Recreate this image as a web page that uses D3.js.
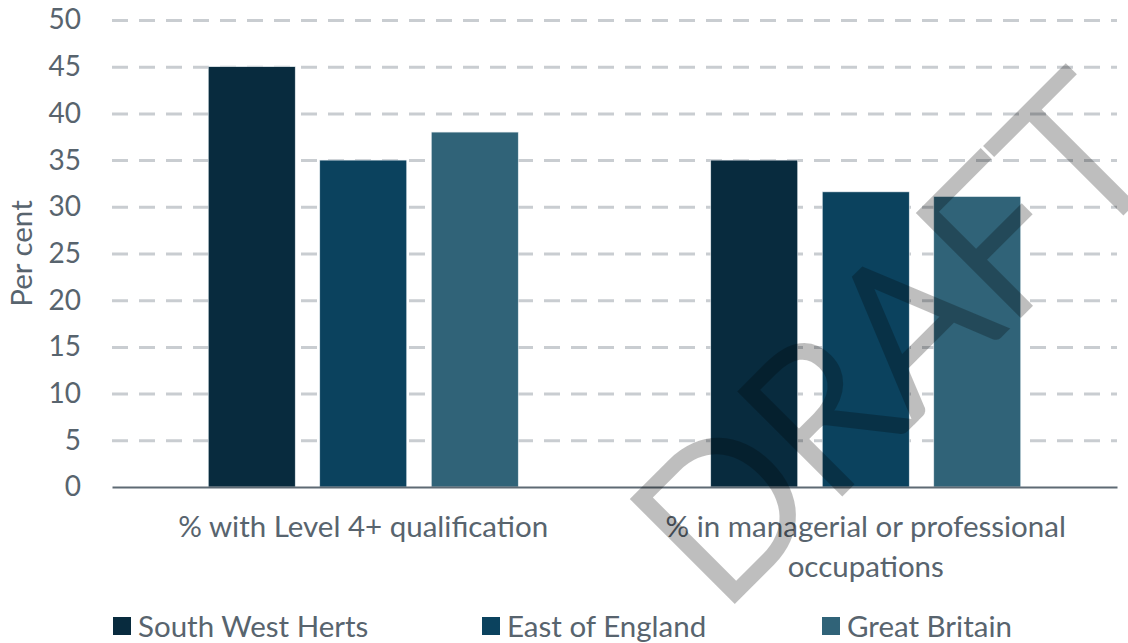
<!DOCTYPE html>
<html>
<head>
<meta charset="utf-8">
<script src="https://cdn.jsdelivr.net/npm/d3@7"></script>
<style>
  html, body { margin: 0; padding: 0; background: #ffffff; }
  svg { display: block; }
  text { font-family: Lato, "Open Sans", sans-serif; }
</style>
</head>
<body>
<svg id="chart" width="1128" height="643"></svg>
<script>
// ---- data ----
const categories = ["% with Level 4+ qualification", "% in managerial or professional occupations"];
const categoryLines = [["% with Level 4+ qualification"], ["% in managerial or professional", "occupations"]];
const seriesNames = ["South West Herts", "East of England", "Great Britain"];
const southWestHerts = [45, 35];
const eastOfEngland = [35, 31.6];
const greatBritain = [38, 31.1];
const yTicks = [0, 5, 10, 15, 20, 25, 30, 35, 40, 45, 50];
const seriesColors = ["#082b3e", "#0b425e", "#306378"];
const watermark = "DRAFT";

const seriesValues = [southWestHerts, eastOfEngland, greatBritain];

const svg = d3.select("#chart");
const margin = { left: 112, right: 11, top: 20, bottom: 156 };
const W = 1128, H = 643;
const plotW = W - margin.left - margin.right;
const plotH = H - margin.top - margin.bottom;

const textColor = "#58646e";
const labelSize = "29.5px";

const y = d3.scaleLinear().domain([0, 50]).range([margin.top + plotH, margin.top]);
const x0 = d3.scaleBand().domain(categories).range([margin.left, margin.left + plotW]).padding(0);
const groupW = 310;
const x1 = d3.scaleBand().domain(seriesNames).range([0, groupW]).paddingInner(0.22).paddingOuter(0);
const groupOffset = (x0.bandwidth() - groupW) / 2;

// gridlines
const grid = svg.append("g")
  .attr("transform", `translate(${margin.left},0)`)
  .call(d3.axisLeft(y).tickValues(yTicks.filter(d => d > 0)).tickSize(-plotW).tickFormat(""));
grid.select(".domain").remove();
grid.selectAll(".tick line")
  .attr("stroke", "#c9cdd1")
  .attr("stroke-width", 3)
  .attr("stroke-dasharray", "16,11");

// y tick labels
const yAxis = svg.append("g")
  .attr("transform", `translate(${margin.left},0)`)
  .call(d3.axisLeft(y).tickValues(yTicks).tickSize(0).tickPadding(31));
yAxis.select(".domain").remove();
yAxis.selectAll("text")
  .attr("fill", textColor)
  .style("font-size", "28px")
  .style("font-family", "Lato, 'Open Sans', sans-serif");

// bars
const groups = svg.append("g").selectAll("g")
  .data(categories)
  .join("g")
  .attr("transform", d => `translate(${x0(d) + groupOffset},0)`);

groups.selectAll("rect")
  .data((d, i) => seriesNames.map((s, j) => ({ s, v: seriesValues[j][i], j })))
  .join("rect")
  .attr("x", d => x1(d.s))
  .attr("width", x1.bandwidth())
  .attr("y", d => y(d.v))
  .attr("height", d => y(0) - y(d.v))
  .attr("fill", d => seriesColors[d.j])
  .attr("stroke", "#e8eef2")
  .attr("stroke-width", 0.6);

// x axis line
const xAxis = svg.append("g")
  .attr("transform", `translate(0,${y(0)})`)
  .call(d3.axisBottom(x0).tickSize(0).tickFormat(""));
xAxis.select(".domain").attr("stroke", "#5e6a74").attr("stroke-width", 2);

// x category labels
svg.append("g").selectAll("text")
  .data(categories)
  .join("text")
  .attr("text-anchor", "middle")
  .attr("fill", textColor)
  .style("font-size", labelSize)
  .each(function (d, i) {
    const lines = categoryLines[i];
    const t = d3.select(this);
    lines.forEach((ln, k) => {
      t.append("tspan")
        .attr("x", x0(d) + x0.bandwidth() / 2)
        .attr("y", 537 + k * 40)
        .text(ln);
    });
  });

// y axis title
svg.append("text")
  .attr("transform", `translate(32,${(y(0) + y(50)) / 2}) rotate(-90)`)
  .attr("text-anchor", "middle")
  .attr("fill", textColor)
  .style("font-size", labelSize)
  .text("Per cent");

// legend
const legendX = [113, 482, 822];
const legend = svg.append("g").selectAll("g")
  .data(seriesNames)
  .join("g")
  .attr("transform", (d, i) => `translate(${legendX[i]},617)`);
legend.append("rect")
  .attr("width", 18).attr("height", 18)
  .attr("fill", (d, i) => seriesColors[i]);
legend.append("text")
  .attr("x", 25).attr("y", 9)
  .attr("dy", "0.36em")
  .attr("fill", textColor)
  .style("font-size", labelSize)
  .text(d => d);

// watermark
svg.append("text")
  .attr("transform", "translate(893,339) rotate(-45)")
  .attr("text-anchor", "middle")
  .attr("dy", "0.36em")
  .attr("fill", "#000")
  .attr("stroke", "#000")
  .attr("stroke-width", 7)
  .attr("stroke-linejoin", "miter")
  .attr("opacity", 0.25)
  .style("font-size", "200px")
  .style("font-weight", 300)
  .style("font-family", "Lato, 'Open Sans', sans-serif")
  .text(watermark);
</script>
</body>
</html>
